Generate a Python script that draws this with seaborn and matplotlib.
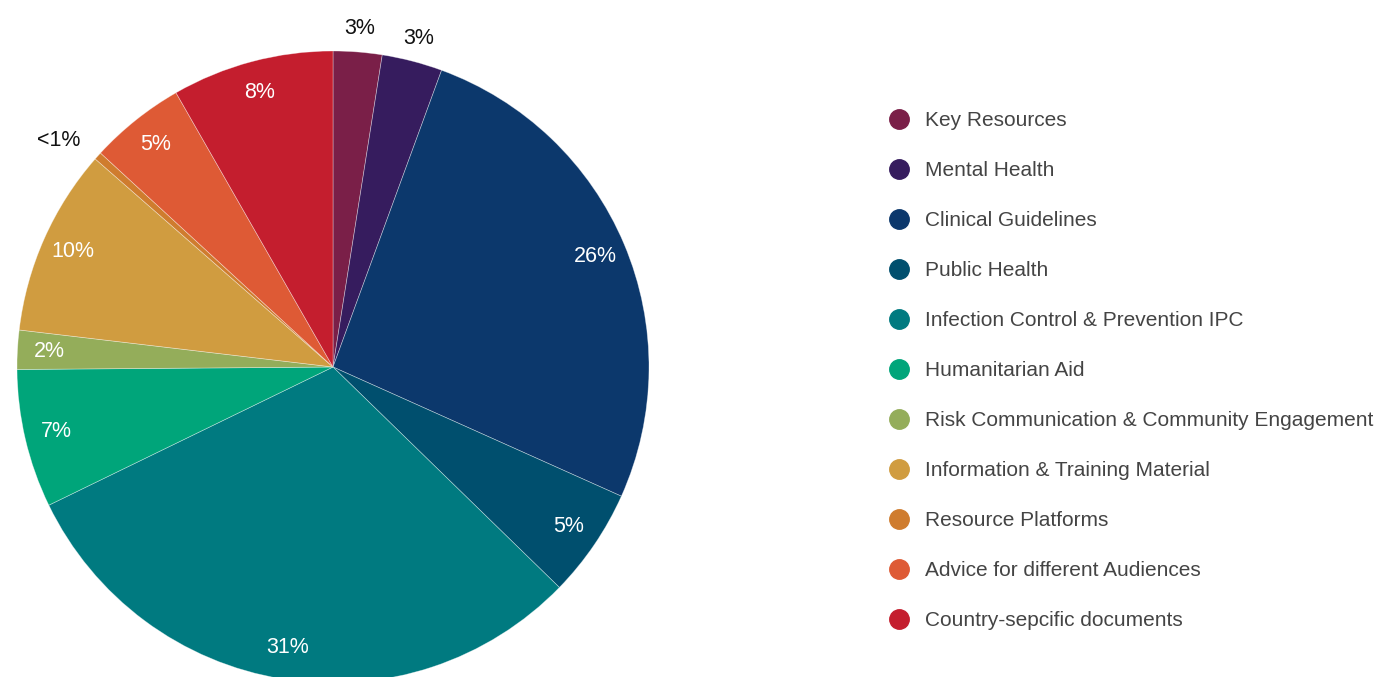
import matplotlib
matplotlib.use("Agg")
import matplotlib.pyplot as plt
from matplotlib.lines import Line2D
import seaborn as sns
import numpy as np

categories = ["Key Resources", "Mental Health", "Clinical Guidelines", "Public Health",
              "Infection Control & Prevention IPC", "Humanitarian Aid",
              "Risk Communication & Community Engagement", "Information & Training Material",
              "Resource Platforms", "Advice for different Audiences", "Country-sepcific documents"]
shares = [2.5, 3.1, 26.2, 5.6, 30.6, 7.1, 2.0, 9.6, 0.4, 4.9, 8.3]
pct_labels = ["3%", "3%", "26%", "5%", "31%", "7%", "2%", "10%", "<1%", "5%", "8%"]
outside = [True, True, False, False, False, False, False, False, True, False, False]
colors = ["#7A1F48", "#361C5E", "#0C386C", "#004F6E", "#007A80", "#00A57A",
          "#94AD5A", "#D09C40", "#CF7C2E", "#DE5A35", "#C41E2E"]

sns.set_theme(style="white")
plt.rcParams['font.family'] = ['Liberation Sans', 'DejaVu Sans']

W, H = 1389, 677
fig = plt.figure(figsize=(W / 100, H / 100), dpi=100)
cx, cy, R = 333, 367, 316
ax = fig.add_axes([(cx - R) / W, (H - cy - R) / H, 2 * R / W, 2 * R / H])
palette = sns.color_palette(colors)
wedges, _ = ax.pie(shares, colors=palette, startangle=90, counterclock=False,
                   radius=1.0, wedgeprops=dict(edgecolor=(1, 1, 1, 0.45), linewidth=0.5))
ax.set_xlim(-1, 1)
ax.set_ylim(-1, 1)
ax.set_aspect("equal")
ax.axis("off")

for w, lab, out in zip(wedges, pct_labels, outside):
    mid = (w.theta1 + w.theta2) / 2
    ang = np.deg2rad(mid)
    x, y = np.cos(ang), np.sin(ang)
    if out:
        r = 1.075
        col = "#111111"
        ha = "right" if x < -0.3 else "center"
    else:
        r = 0.9
        col = "white"
        ha = "center"
    ax.text(r * x, r * y, lab, ha=ha, va="center",
            fontsize=15.5, color=col, clip_on=False)

handles = [Line2D([0], [0], marker="o", linestyle="", markersize=14,
                  markerfacecolor=c, markeredgecolor=c) for c in palette]
leg = fig.legend(handles, categories, loc="upper left",
                 bbox_to_anchor=(889 / W, 1 - 111 / H), frameon=False,
                 fontsize=15, labelspacing=1.49, handletextpad=0.75,
                 handlelength=1.0, borderaxespad=0, borderpad=0)
for t in leg.get_texts():
    t.set_color("#444444")

fig.savefig("out.png", dpi=100)
